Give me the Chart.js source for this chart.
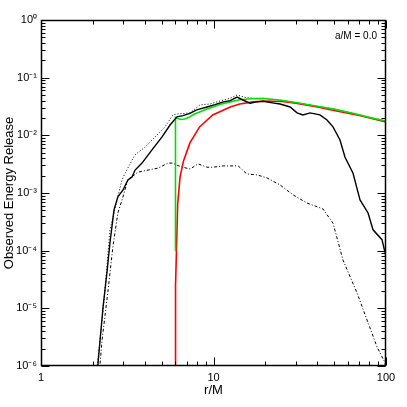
<!DOCTYPE html>
<html>
<head>
<meta charset="utf-8">
<script src="https://cdn.jsdelivr.net/npm/chart.js@4"></script>
<style>
html,body{margin:0;padding:0;background:#fff;}
canvas{display:block;}
</style>
</head>
<body>
<canvas id="c" width="407" height="407"></canvas>
<script>
// ---- data ----
const xTicks = [1, 10, 100];
const xTickLabels = ['1', '10', '100'];
const yTicks = [1e-6, 1e-5, 1e-4, 1e-3, 1e-2, 1e-1, 1];
const yTickLabels = ['10\u207B\u2076', '10\u207B\u2075', '10\u207B\u2074', '10\u207B\u00B3', '10\u207B\u00B2', '10\u207B\u00B9', '10\u2070'];
const minorMultiples = [2, 3, 4, 5, 6, 7, 8, 9];
const xTitle = 'r/M';
const yTitle = 'Observed Energy Release';
const annotation = 'a/M = 0.0';

const solidR = [2.12, 2.20, 2.29, 2.41, 2.51, 2.65, 2.79, 2.99, 3.19, 3.37, 3.51, 3.85, 4.40, 5.03, 5.60, 6.14, 6.66, 7.3, 8.0, 9.17, 10.2, 11.4, 12.5, 13.7, 14.8, 16.3, 17.8, 19.4, 21.5, 24.3, 27.8, 30.5, 33.0, 36.3, 41.4, 45.5, 49.3, 54.1, 57.8, 64.4, 70.7, 78.7, 84.1, 94.8, 100];
const solidV = [8e-7, 2.8e-6, 1.06e-5, 4.1e-5, 1.36e-4, 5.1e-4, 8.6e-4, 1.13e-3, 1.69e-3, 1.9e-3, 2.5e-3, 3.3e-3, 5.6e-3, 9.4e-3, 0.0151, 0.0209, 0.022, 0.024, 0.0276, 0.031, 0.034, 0.038, 0.040, 0.046, 0.041, 0.036, 0.038, 0.039, 0.037, 0.035, 0.031, 0.0245, 0.0226, 0.0245, 0.0226, 0.0185, 0.014, 8.3e-3, 4.2e-3, 2.2e-3, 7.6e-4, 4.5e-4, 2.3e-4, 1.55e-4, 7.8e-5];

const dotR = [2.10, 2.23, 2.35, 2.51, 2.76, 2.95, 3.07, 3.51, 4.0, 4.40, 5.23, 5.82, 6.22, 7.31, 8.35, 9.55, 11.4, 12.5, 13.7, 15.5, 17, 19.5, 24, 30, 40, 50, 65, 80, 100];
const dotV = [8e-7, 4.3e-6, 2.1e-5, 2.3e-4, 7.6e-4, 1.69e-3, 2.2e-3, 4.6e-3, 6.2e-3, 8.3e-3, 0.014, 0.0226, 0.0235, 0.0245, 0.0337, 0.035, 0.041, 0.044, 0.050, 0.045, 0.044, 0.044, 0.041, 0.037, 0.032, 0.0285, 0.024, 0.0205, 0.0177];

const dashR = [2.18, 2.26, 2.45, 2.61, 2.79, 2.95, 3.19, 3.65, 4.17, 4.77, 5.45, 5.82, 6.2, 6.66, 7.31, 8.13, 9.17, 9.93, 11.4, 13.9, 15.6, 17.9, 20.4, 24.3, 28.9, 34.8, 43.1, 49.3, 56.3, 67.9, 77.6, 88.7, 98.7, 100];
const dashV = [8e-7, 2.84e-6, 2.1e-5, 1.16e-4, 4.5e-4, 7.6e-4, 1.69e-3, 2.3e-3, 2.5e-3, 2.7e-3, 3.3e-3, 3.3e-3, 3.0e-3, 2.8e-3, 2.6e-3, 3.2e-3, 2.8e-3, 2.8e-3, 2.95e-3, 2.95e-3, 2.14e-3, 2.06e-3, 1.83e-3, 1.38e-3, 9.3e-4, 6.7e-4, 5.3e-4, 3.0e-4, 6.9e-5, 1.86e-5, 6.3e-6, 2.15e-6, 1.14e-6, 9e-7];

const redR = [6.0, 6.005, 6.02, 6.05, 6.1, 6.2, 6.4, 6.7, 7.3, 8.3, 9.9, 12.5, 14.2, 17, 20, 25, 30, 40, 50, 70, 100];
const redV = [1e-8, 1e-6, 4e-6, 2.5e-5, 1e-4, 6.5e-4, 1.9e-3, 3.6e-3, 7.4e-3, 0.014, 0.0225, 0.031, 0.035, 0.038, 0.0395, 0.0385, 0.036, 0.031, 0.027, 0.022, 0.017];

const greenR = [6.0, 6.02, 6.2, 6.5, 6.8, 7.2, 7.7, 8.3, 9.0, 9.9, 11.0, 12.5, 14.2, 16.5, 19.5, 24, 30, 40, 50, 65, 80, 100];
const greenV = [1.0e-4, 0.0205, 0.0195, 0.0188, 0.0192, 0.0205, 0.0232, 0.0255, 0.028, 0.031, 0.0345, 0.038, 0.0415, 0.043, 0.0435, 0.041, 0.037, 0.032, 0.0285, 0.024, 0.0205, 0.0177];

const pts = (rs, vs) => rs.map((r, i) => ({x: r, y: vs[i]}));
const FONT = '"Liberation Sans", Arial, Helvetica, sans-serif';

const frame = {
  id: 'frame',
  afterDraw(chart) {
    const {ctx, chartArea: a, scales: {x, y}} = chart;
    ctx.save();
    ctx.strokeStyle = '#000';
    ctx.lineWidth = 1.5;
    const L = a.left + 0.5, R = a.right - 0.5, T = a.top + 0.5, B = a.bottom - 0.5;
    ctx.strokeRect(L, T, R - L, B - T);
    ctx.lineWidth = 1;
    ctx.beginPath();
    const major = 8, minor = 4;
    // x ticks
    for (let d = 0; d < xTicks.length; d++) {
      const px = Math.round(x.getPixelForValue(xTicks[d])) + 0.5;
      ctx.moveTo(px, B); ctx.lineTo(px, B - major);
      ctx.moveTo(px, T); ctx.lineTo(px, T + major);
      if (d < xTicks.length - 1) {
        for (const m of minorMultiples) {
          const q = Math.round(x.getPixelForValue(xTicks[d] * m)) + 0.5;
          ctx.moveTo(q, B); ctx.lineTo(q, B - minor);
          ctx.moveTo(q, T); ctx.lineTo(q, T + minor);
        }
      }
    }
    // y ticks
    for (let d = 0; d < yTicks.length; d++) {
      const py = Math.round(y.getPixelForValue(yTicks[d])) + 0.5;
      ctx.moveTo(L, py); ctx.lineTo(L + major, py);
      ctx.moveTo(R, py); ctx.lineTo(R - major, py);
      if (d < yTicks.length - 1) {
        for (const m of minorMultiples) {
          const q = Math.round(y.getPixelForValue(yTicks[d] * m)) + 0.5;
          ctx.moveTo(L, q); ctx.lineTo(L + minor, q);
          ctx.moveTo(R, q); ctx.lineTo(R - minor, q);
        }
      }
    }
    ctx.stroke();
    ctx.fillStyle = '#000';
    ctx.font = '10px ' + FONT;
    ctx.textAlign = 'right';
    ctx.textBaseline = 'middle';
    ctx.fillText(annotation, a.right - 9, a.top + 16);
    ctx.restore();
  }
};

new Chart(document.getElementById('c'), {
  type: 'line',
  data: {
    datasets: [
      {label: 'total', data: pts(solidR, solidV), borderColor: '#000', borderWidth: 1.4},
      {label: 'green', data: pts(greenR, greenV), borderColor: '#00e000', borderWidth: 1.6},
      {label: 'red', data: pts(redR, redV), borderColor: '#ff0000', borderWidth: 1.6},
      {label: 'dotted', data: pts(dotR, dotV), borderColor: '#000', borderWidth: 1, borderDash: [1, 2]},
      {label: 'dashdot', data: pts(dashR, dashV), borderColor: '#000', borderWidth: 1, borderDash: [3, 2, 1, 2]}
    ]
  },
  options: {
    responsive: false,
    animation: false,
    devicePixelRatio: 1,
    layout: {padding: {top: 20, right: 21, left: 0, bottom: 0}},
    elements: {point: {radius: 0}, line: {tension: 0, fill: false}},
    plugins: {legend: {display: false}, tooltip: {enabled: false}},
    scales: {
      x: {
        type: 'logarithmic', position: 'bottom', min: 1, max: 100,
        grid: {display: false, drawTicks: false}, border: {display: false},
        afterBuildTicks: s => { s.ticks = xTicks.map(v => ({value: v})); },
        afterFit: s => { s.height = 41; },
        ticks: {
          color: '#000', font: {family: FONT, size: 11}, padding: 5,
          maxRotation: 0, autoSkip: false,
          callback: (v, i) => xTickLabels[i]
        },
        title: {display: true, text: xTitle, color: '#000', font: {family: FONT, size: 13}, padding: {top: 0, bottom: 9}}
      },
      y: {
        type: 'logarithmic', position: 'left', min: 1e-6, max: 1,
        grid: {display: false, drawTicks: false}, border: {display: false},
        afterBuildTicks: s => { s.ticks = yTicks.map(v => ({value: v})); },
        afterFit: s => { s.width = 41; },
        ticks: {
          color: '#000', font: {family: FONT, size: 11}, padding: 4,
          autoSkip: false,
          callback: (v, i) => yTickLabels[i]
        },
        title: {display: true, text: yTitle, color: '#000', font: {family: FONT, size: 13}, padding: {top: 2, bottom: 0}}
      }
    }
  },
  plugins: [frame]
});
</script>
</body>
</html>
